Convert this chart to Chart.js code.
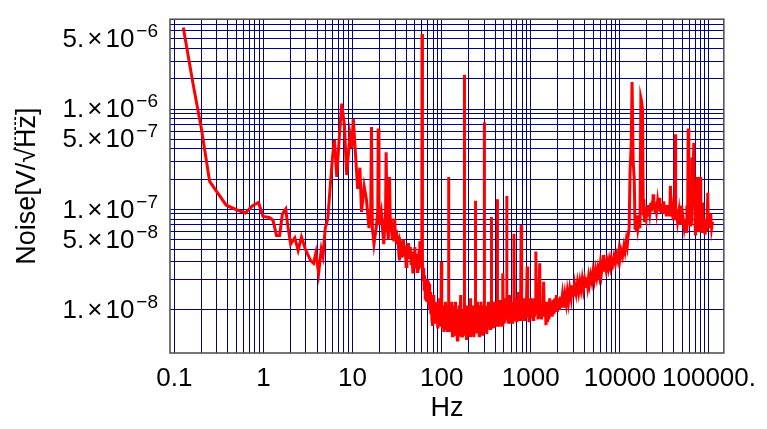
<!DOCTYPE html>
<html>
<head>
<meta charset="utf-8">
<script src="https://cdn.jsdelivr.net/npm/chart.js@4.4.1/dist/chart.umd.min.js"></script>
<style>
  body { margin: 0; background: #fff; }
  #wrap { width: 767px; height: 429px; }
</style>
</head>
<body>
<div id="wrap"><canvas id="noise"></canvas></div>
<script>
// [frequency Hz, noise V/sqrt(Hz)], by band
const lowBand = [
  [0.126, 6.5e-6], [0.162, 1.8e-6], [0.201, 6.4e-7], [0.249, 1.9e-7], [0.382, 1.1e-7],
  [0.514, 9.8e-8], [0.626, 9.2e-8], [0.755, 1.09e-7], [0.88, 1.17e-7], [0.99, 8.5e-8],
  [1.16, 8.3e-8], [1.28, 7.8e-8], [1.40, 5.5e-8], [1.52, 5.5e-8], [1.63, 9.0e-8],
  [1.78, 1.01e-7], [1.87, 7.0e-8], [2.02, 4.5e-8], [2.25, 5.2e-8], [2.45, 3.9e-8],
  [2.67, 5.3e-8], [2.96, 4.0e-8], [3.37, 3.1e-8], [3.66, 2.9e-8], [3.88, 3.7e-8],
  [4.16, 2.3e-8], [4.46, 4.0e-8], [4.66, 3.4e-8], [4.94, 6.5e-8], [5.28, 8.1e-8],
  [5.62, 1.7e-7], [5.95, 3.3e-7], [6.27, 4.9e-7], [6.65, 2.1e-7], [7.05, 4.8e-7],
  [7.55, 1.13e-6], [8.1, 6.9e-7], [8.59, 2.2e-7], [9.35, 5.5e-7], [9.78, 4.1e-7],
  [10.2, 8.0e-7], [10.8, 3.5e-7], [11.4, 1.6e-7], [12.1, 2.6e-7], [12.6, 9.4e-8],
  [13.5, 1.7e-7], [14.3, 1.26e-7], [15.3, 6.5e-8], [16.0, 1.0e-7], [16.3, 6.6e-7],
  [16.7, 6.5e-8], [17.4, 4.5e-8], [18.6, 7.0e-8], [19.2, 1.0e-7], [19.4, 6.4e-7],
  [19.8, 7.0e-8], [21.0, 9.4e-8], [22.4, 4.5e-8], [23.5, 1.0e-7], [23.8, 3.7e-7],
  [24.5, 7.0e-8], [25.2, 5.0e-8], [26.0, 2.1e-7], [26.6, 6.0e-8], [27.2, 8.1e-8],
  [27.8, 5.0e-8], [28.5, 6.5e-8], [29.1, 4.8e-8], [29.7, 8.1e-8], [30.4, 5.0e-8],
  [31.0, 6.2e-8], [31.6, 4.5e-8], [32.5, 5.5e-8], [33.0, 3.6e-8], [33.6, 3.1e-8],
  [34.3, 4.8e-8], [35.0, 4.5e-8], [35.8, 3.3e-8], [36.6, 3.9e-8], [37.3, 5.0e-8],
  [38.0, 3.4e-8], [39.0, 4.2e-8], [39.9, 2.7e-8], [40.7, 4.4e-8], [41.5, 3.3e-8],
  [42.5, 4.6e-8], [43.6, 3.2e-8], [44.5, 4.2e-8], [45.5, 2.8e-8], [46.5, 3.8e-8],
  [47.5, 2.3e-8], [48.3, 3.6e-8], [49.0, 2.8e-8], [50.0, 4.2e-8], [51.0, 2.6e-8],
  [52.0, 3.6e-8], [53.0, 2.4e-8], [54.1, 3.4e-8], [55.0, 2.5e-8], [55.8, 3.8e-8],
  [56.9, 4.8e-8], [57.8, 2.6e-8], [58.8, 3.5e-8], [59.9, 3.0e-8], [60.2, 5.6e-6],
  [60.5, 2.5e-8], [61.2, 3.0e-8], [62.0, 2.0e-8], [62.8, 2.6e-8], [63.6, 1.6e-8],
  [64.5, 2.2e-8], [65.5, 1.3e-8], [66.5, 1.9e-8], [67.5, 1.2e-8], [68.5, 2.0e-8],
  [69.5, 1.4e-8], [70.5, 1.9e-8], [71.5, 1.1e-8], [72.4, 1.8e-8], [73.5, 1.0e-8],
  [74.5, 1.5e-8], [75.5, 9e-9], [76.5, 1.4e-8], [77.7, 8e-9], [78.9, 7.1e-9],
  [79.7, 1.3e-8], [80.5, 9e-9], [81.5, 1.4e-8], [82.4, 8e-9], [83.5, 1.2e-8],
  [84.7, 7.5e-9], [86.0, 1.2e-8], [87.5, 8e-9], [89.0, 1.1e-8], [90.5, 6.5e-9],
  [92.0, 1.2e-8], [93.5, 8e-9], [95.0, 1.3e-8], [96.5, 7e-9], [98.3, 1.1e-8]
];

const midBand = [
  [99.3, 3.0e-8], [100.3, 7e-9], [101.8, 1.1e-8], [103, 6.5e-9], [104.5, 1.0e-8],
  [106, 6.0e-9], [107.5, 1.1e-8], [109, 7e-9], [110.5, 1.2e-8], [112, 6.5e-9],
  [114, 1.0e-8], [116, 6e-9], [118, 1.1e-8], [119.6, 8e-9], [120, 2.1e-7],
  [120.4, 7e-9], [122, 1.0e-8], [124, 6e-9], [126, 1.1e-8], [128, 6.5e-9],
  [130, 1.2e-8], [132, 5.5e-9], [134, 1.0e-8], [136, 6e-9], [138, 1.1e-8],
  [140, 5.5e-9], [143, 1.2e-8], [145, 6e-9], [147, 1.0e-8], [150, 5e-9],
  [152, 9e-9], [155, 5.5e-9], [157, 1.1e-8], [160, 6e-9], [163.5, 1.4e-8],
  [165.5, 5.5e-9], [168, 1.0e-8], [171, 5.3e-9], [173.6, 9.5e-9], [176, 5.5e-9],
  [179.5, 1.0e-8], [180, 2.2e-6], [180.5, 6e-9], [183, 1.0e-8], [186, 5.5e-9],
  [188, 1.1e-8], [190, 5.0e-9], [193, 1.0e-8], [196, 5.5e-9], [199, 1.1e-8],
  [202, 6e-9], [205, 1.1e-8], [208, 5.5e-9], [211, 1.3e-8], [214, 6e-9],
  [218, 1.0e-8], [222, 5.5e-9], [226, 1.1e-8], [230, 5.3e-9], [234, 1.1e-8],
  [237, 6e-9], [239.6, 9e-9], [240, 1.22e-7], [240.4, 7e-9], [244, 1.1e-8],
  [248, 6e-9], [252, 1.2e-8], [256, 6e-9], [260, 1.1e-8], [264, 5.5e-9],
  [268, 1.0e-8], [272, 6e-9], [276, 1.2e-8], [280, 6e-9], [285, 1.1e-8],
  [289, 5.5e-9], [294, 1.0e-8], [299.5, 8e-9], [300, 7.4e-7], [300.5, 7e-9],
  [305, 1.1e-8], [310, 6e-9], [315, 1.1e-8], [321, 5.7e-9], [326, 1.1e-8],
  [331, 6.5e-9], [336, 1.2e-8], [340, 7e-9], [345, 1.03e-8], [350, 6.5e-9],
  [355, 1.1e-8], [359.5, 8e-9], [360, 8.4e-8], [360.5, 7e-9], [366, 1.2e-8],
  [372, 6.5e-9], [378, 1.1e-8], [384, 6.6e-9], [390, 1.2e-8], [396, 7e-9],
  [402, 1.1e-8], [408, 7e-9], [414, 1.2e-8], [419.5, 9e-9], [420, 1.26e-7],
  [420.5, 8e-9], [427, 1.2e-8], [433, 7e-9], [440, 1.2e-8], [447, 7e-9],
  [455, 1.25e-8], [462, 7.5e-9], [470, 1.1e-8], [478, 7e-9], [485, 2.3e-8],
  [492, 7.5e-9], [500, 1.2e-8], [508, 7.5e-9], [515, 1.3e-8], [522, 8e-9],
  [530, 1.2e-8], [536, 8e-9], [539.5, 1.1e-8], [540, 1.36e-7], [540.5, 9e-9],
  [548, 1.3e-8], [556, 7.5e-9], [565, 1.2e-8], [574, 1.4e-8], [583, 7.5e-9],
  [592, 1.2e-8], [601, 7.5e-9], [610, 1.1e-8], [620, 7.5e-9], [630, 1.2e-8],
  [638, 8e-9], [647, 5.7e-8], [656, 8e-9], [665, 1.2e-8], [675, 8e-9],
  [685, 1.2e-8], [696, 7.5e-9], [707, 1.3e-8], [718, 8e-9], [730, 1.5e-8],
  [742, 8e-9], [755, 1.2e-8], [767, 8e-9], [780, 7.0e-8], [790, 8.5e-9],
  [802, 1.2e-8], [815, 7.7e-9], [828, 1.2e-8], [840, 8e-9], [853, 1.3e-8],
  [865, 8.5e-9], [878, 1.2e-8], [890, 8.5e-9], [910, 2.7e-8], [925, 8.5e-9],
  [940, 1.2e-8], [955, 7.5e-9], [970, 1.2e-8], [985, 8.5e-9], [1000, 1.3e-8],
  [1020, 8.5e-9], [1040, 1.2e-8], [1060, 8e-9], [1080, 1.3e-8], [1100, 8.5e-9],
  [1120, 1.2e-8], [1140, 3.8e-8], [1160, 9e-9], [1185, 1.2e-8], [1205, 8e-9],
  [1230, 1.2e-8], [1260, 2.9e-8], [1280, 8.5e-9], [1300, 1.2e-8], [1320, 8e-9],
  [1345, 1.2e-8], [1370, 8.5e-9], [1395, 1.9e-8], [1420, 8.5e-9], [1450, 1.2e-8],
  [1480, 7e-9], [1510, 1.1e-8], [1540, 7.5e-9], [1570, 1.2e-8], [1600, 8e-9],
  [1630, 1.3e-8], [1665, 8.5e-9], [1700, 1.2e-8], [1740, 8.5e-9], [1780, 1.25e-8],
  [1820, 9e-9], [1860, 1.3e-8], [1900, 9.5e-9], [1940, 1.4e-8], [1990, 9.5e-9],
  [2050, 1.3e-8], [2100, 1.0e-8], [2150, 1.35e-8], [2200, 1.05e-8], [2270, 1.4e-8],
  [2350, 1.05e-8], [2420, 1.4e-8], [2500, 1.15e-8], [2570, 1.5e-8], [2650, 1.2e-8],
  [2740, 1.6e-8], [2840, 1.3e-8], [2920, 1.75e-8], [3000, 1.35e-8], [3100, 1.8e-8],
  [3230, 1.45e-8], [3340, 1.85e-8], [3450, 1.5e-8], [3560, 1.9e-8], [3670, 1.6e-8],
  [3780, 2.0e-8], [3900, 1.6e-8], [4030, 2.0e-8], [4170, 1.7e-8], [4260, 2.1e-8],
  [4350, 1.75e-8], [4450, 2.1e-8], [4550, 1.8e-8], [4700, 2.2e-8], [4850, 1.9e-8],
  [5000, 2.4e-8], [5170, 2.0e-8], [5330, 2.5e-8], [5500, 2.1e-8], [5680, 2.6e-8],
  [5870, 2.2e-8], [6030, 2.8e-8], [6200, 2.3e-8], [6350, 2.8e-8], [6510, 3.5e-8],
  [6600, 2.4e-8], [6800, 2.9e-8], [7000, 2.5e-8], [7200, 3.0e-8], [7400, 2.6e-8],
  [7600, 3.1e-8], [7800, 2.7e-8], [8000, 3.2e-8], [8300, 2.8e-8], [8600, 3.4e-8],
  [8900, 2.9e-8], [9200, 3.5e-8], [9500, 3.1e-8], [9760, 3.8e-8], [10000, 3.2e-8],
  [10300, 3.9e-8], [10700, 3.4e-8], [11100, 4.3e-8], [11400, 3.8e-8], [11800, 4.9e-8],
  [12100, 4.3e-8], [12400, 5.5e-8]
];

const highBand = [
  [12700, 6.5e-8], [13000, 2.3e-7], [13400, 4.4e-7], [13700, 1.86e-6], [14100, 3.0e-7],
  [14500, 2.0e-7], [14800, 6.5e-8], [15100, 8e-8], [15400, 6e-8], [15700, 8.7e-8],
  [16000, 6.5e-8], [16400, 7.5e-8], [16800, 6.5e-8], [17200, 1.29e-6], [17500, 1.2e-6],
  [17950, 1.0e-6], [18300, 9e-8], [18600, 1.26e-7], [18900, 7.5e-8], [19200, 9e-8],
  [19700, 8e-8], [20200, 1.05e-7], [20600, 8.5e-8], [21000, 1.1e-7], [21600, 9e-8],
  [22200, 1.15e-7], [22600, 9.5e-8], [23000, 1.2e-7], [23300, 1.0e-7], [23600, 1.41e-7],
  [24000, 1.0e-7], [24300, 1.2e-7], [24800, 9.5e-8], [25200, 1.15e-7], [25800, 9.5e-8],
  [26500, 1.2e-7], [27100, 1.0e-7], [27700, 1.3e-7], [28100, 9.5e-8], [28500, 1.15e-7],
  [29000, 9.5e-8], [29600, 1.15e-7], [30300, 9e-8], [31000, 1.2e-7], [31700, 9e-8],
  [32400, 1.1e-7], [33200, 8.5e-8], [34000, 1.1e-7], [34700, 9e-8], [35400, 1.05e-7],
  [36200, 8.5e-8], [36900, 1.72e-7], [37700, 8.5e-8], [38600, 1.0e-7], [39500, 8e-8],
  [40400, 9.4e-8], [41100, 8e-8], [41800, 5.6e-7], [42300, 8.7e-8], [42900, 1.0e-7],
  [44400, 7.5e-8], [46000, 9.5e-8], [47100, 7e-8], [48300, 1.09e-7], [49600, 7e-8],
  [50900, 8.5e-8], [52700, 6.5e-8], [54500, 8e-8], [55500, 6e-8], [56500, 1.09e-7],
  [57500, 7e-8], [58400, 6.4e-7], [59400, 1.5e-7], [60400, 1.96e-7], [61500, 7e-8],
  [62500, 1.2e-7], [63500, 7e-8], [64600, 3.3e-7], [66000, 1.5e-7], [67500, 4.6e-7],
  [68400, 1.4e-7], [69300, 9.4e-8], [70500, 5.5e-8], [71700, 9e-8], [73000, 6e-8],
  [74200, 2.1e-7], [75500, 7e-8], [76900, 1.0e-7], [78200, 6e-8], [79500, 2.1e-7],
  [80900, 6.5e-8], [82300, 1.0e-7], [83700, 6e-8], [85200, 1.17e-7], [86700, 6e-8],
  [88200, 8e-8], [90400, 5.6e-8], [92700, 8e-8], [94800, 6e-8], [96900, 1.46e-7],
  [98500, 6.5e-8], [100200, 9e-8], [102300, 6.5e-8], [104500, 9e-8], [107000, 6.5e-8],
  [109600, 7.5e-8]
];

// axis ranges and labelled ticks
const xRange = [0.0894, 146800];
const yRange = [3.7e-9, 7.86e-6];
const xTickValues = [0.1, 1, 10, 100, 1000, 10000, 100000];
const xTickLabels = ["0.1", "1", "10", "100", "1000", "10000", "100000."];
const yTickValues = [5e-6, 1e-6, 5e-7, 1e-7, 5e-8, 1e-8];
const yTickMantissa = ["5.", "1.", "5.", "1.", "5.", "1."];
const yTickExponent = ["−6", "−6", "−7", "−7", "−8", "−8"];

const FONT = "Liberation Sans";

// grid at 1..9 of every decade inside [lo, hi]
function decadeTicks(lo, hi, fromExp, toExp) {
  const out = [];
  for (let e = fromExp; e <= toExp; e++) {
    for (let n = 1; n <= 9; n++) {
      const v = Number((n * Math.pow(10, e)).toPrecision(3));
      if (v >= lo && v <= hi) out.push({ value: v });
    }
  }
  return out;
}

function labelFor(values, labels, v) {
  for (let i = 0; i < values.length; i++) {
    if (Math.abs(values[i] - v) / values[i] < 1e-6) return labels[i];
  }
  return "";
}

// frame, y tick labels with raised exponents, overline of the radical
const extras = {
  id: "extras",
  afterDraw(chart) {
    const a = chart.chartArea;
    const ctx = chart.ctx;
    const ys = chart.scales.y;
    ctx.save();
    ctx.strokeStyle = "#4a4a4a";
    ctx.lineWidth = 1.5;
    ctx.strokeRect(a.left, a.top, a.right - a.left, a.bottom - a.top);

    // y labels: "5.×10" then the exponent, right edge near the axis
    ctx.fillStyle = "#000";
    ctx.textBaseline = "middle";
    ctx.textAlign = "left";
    const rightEdge = a.left - 12;
    yTickValues.forEach((v, i) => {
      const py = ys.getPixelForValue(v);
      ctx.font = "19px " + FONT;
      const expW = ctx.measureText(yTickExponent[i]).width;
      ctx.font = "26px " + FONT;
      const tenW = ctx.measureText("10").width;
      const timesW = ctx.measureText("×").width;
      const manW = ctx.measureText(yTickMantissa[i]).width;
      let x = rightEdge - expW - 2 - tenW - 3 - timesW - 3 - manW;
      ctx.fillText(yTickMantissa[i], x, py + 1);
      x += manW + 3;
      ctx.fillText("×", x, py + 1);
      x += timesW + 3;
      ctx.fillText("10", x, py + 1);
      x += tenW + 2;
      ctx.font = "19px " + FONT;
      ctx.fillText(yTickExponent[i], x, py - 7);
    });

    // dashed overline over "Hz" in the rotated title
    const t = ys.options.title;
    ctx.font = "27px " + FONT;
    const whole = ctx.measureText(t.text).width;
    const before = ctx.measureText("Noise[V/√").width;
    const hz = ctx.measureText("Hz").width;
    const cx = ys.left + t.padding.top + 27 * 1.2 / 2;
    const cy = (ys.top + ys.bottom) / 2;
    ctx.translate(cx, cy);
    ctx.rotate(-Math.PI / 2);
    ctx.strokeStyle = "#000";
    ctx.lineWidth = 1.5;
    ctx.setLineDash([3, 2]);
    ctx.beginPath();
    ctx.moveTo(-whole / 2 + before - 2, -12);
    ctx.lineTo(-whole / 2 + before + hz, -12);
    ctx.stroke();
    ctx.restore();
  }
};

const points = lowBand.concat(midBand, highBand).map((p) => ({ x: p[0], y: p[1] }));

new Chart(document.getElementById("noise"), {
  type: "line",
  plugins: [extras],
  data: {
    datasets: [{
      data: points,
      borderColor: "#ff0000",
      borderWidth: 3,
      pointRadius: 0,
      tension: 0,
      fill: false
    }]
  },
  options: {
    responsive: true,
    maintainAspectRatio: false,
    animation: false,
    layout: { padding: { top: 7, right: 38, bottom: 0, left: 0 } },
    plugins: { legend: { display: false }, tooltip: { enabled: false } },
    scales: {
      x: {
        type: "logarithmic",
        min: xRange[0],
        max: xRange[1],
        afterBuildTicks: (s) => { s.ticks = decadeTicks(xRange[0], xRange[1], -1, 5); },
        afterFit: (s) => { s.height = 76; },
        grid: { color: "#000080", lineWidth: 1, drawTicks: false },
        border: { display: false },
        ticks: {
          autoSkip: false,
          maxRotation: 0,
          padding: 10,
          color: "#000",
          font: { family: FONT, size: 26 },
          callback: (v) => labelFor(xTickValues, xTickLabels, v)
        },
        title: {
          display: true,
          text: "Hz",
          color: "#000",
          padding: { top: 0, bottom: 4 },
          font: { family: FONT, size: 27 }
        }
      },
      y: {
        type: "logarithmic",
        min: yRange[0],
        max: yRange[1],
        afterBuildTicks: (s) => { s.ticks = decadeTicks(yRange[0], yRange[1], -8, -6); },
        afterFit: (s) => { s.width = 170; },
        grid: { color: "#000080", lineWidth: 1, drawTicks: false },
        border: { display: false },
        ticks: {
          autoSkip: false,
          padding: 12,
          callback: () => ""
        },
        title: {
          display: true,
          text: "Noise[V/√Hz]",
          color: "#000",
          padding: { top: 11, bottom: 0 },
          font: { family: FONT, size: 27 }
        }
      }
    }
  }
});
</script>
</body>
</html>
